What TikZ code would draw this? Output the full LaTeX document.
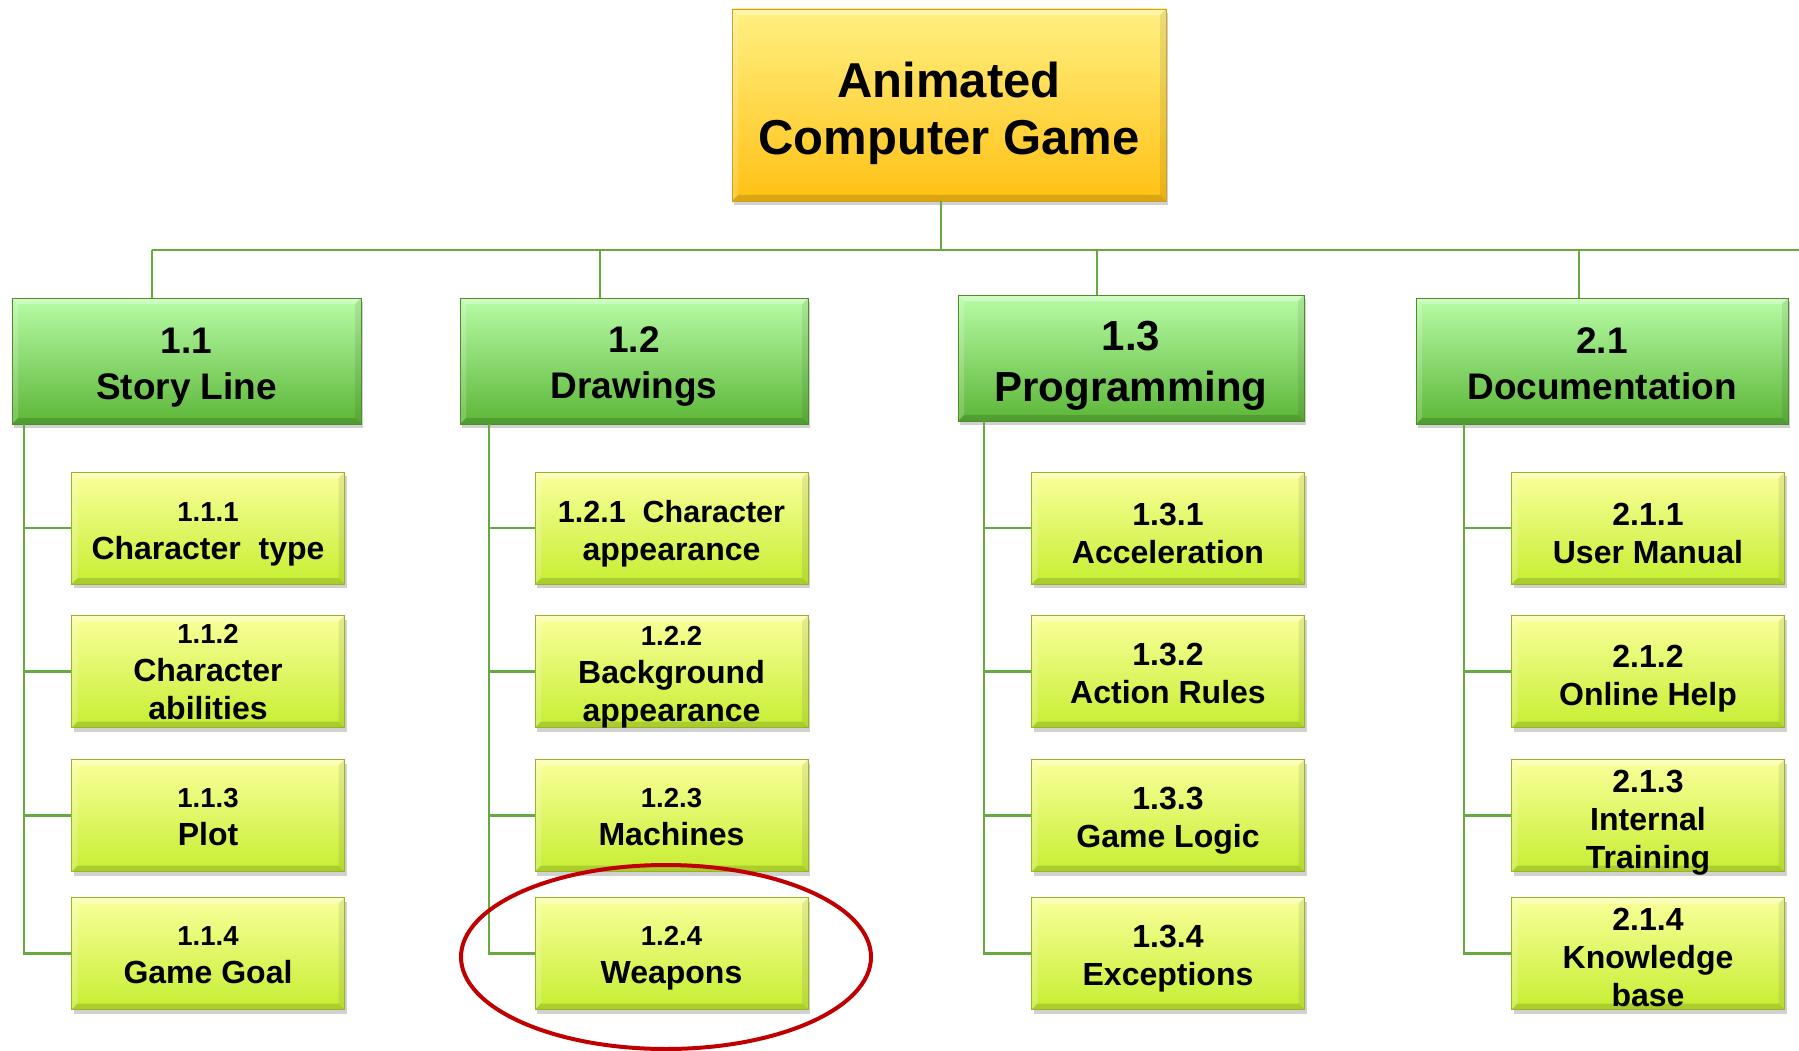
\documentclass[tikz,border=0pt]{standalone}
\usepackage{fontspec}
\setmainfont{Liberation Sans}
\usetikzlibrary{shadows,shapes.geometric}
\definecolor{lineg}{RGB}{104,168,62}
\definecolor{rootTop}{RGB}{255,240,130}
\definecolor{rootBot}{RGB}{255,193,20}
\definecolor{rootEdge}{RGB}{205,160,40}
\definecolor{lTop}{RGB}{184,252,166}
\definecolor{lBot}{RGB}{92,182,56}
\definecolor{lEdge}{RGB}{78,140,44}
\definecolor{cTop}{RGB}{250,255,155}
\definecolor{cBot}{RGB}{198,238,50}
\definecolor{cEdge}{RGB}{150,180,40}
\definecolor{hlred}{RGB}{192,0,0}
\newcommand\numS{\fontsize{27.5}{37}\selectfont}
\tikzset{
  conn/.style={draw=lineg, line width=2.5pt},
  boxshadow/.style={drop shadow={shadow xshift=2pt, shadow yshift=-4pt, opacity=0.3, fill=black!60}},
  bevel/.style={path picture={
    \path (path picture bounding box.north west) coordinate (bnw)
          (path picture bounding box.south east) coordinate (bse);
    \fill[white,opacity=.35] (bnw) -- (bnw -| bse) -- ([shift={(-6pt,-6pt)}]bnw -| bse) -- ([shift={(6pt,-6pt)}]bnw) -- cycle;
    \fill[white,opacity=.18] (bnw) -- ([shift={(6pt,-6pt)}]bnw) -- ([shift={(6pt,6pt)}]bse -| bnw) -- (bse -| bnw) -- cycle;
    \fill[black,opacity=.14] (bse) -- (bse -| bnw) -- ([shift={(6pt,6pt)}]bse -| bnw) -- ([shift={(-6pt,6pt)}]bse) -- cycle;
    \fill[black,opacity=.08] (bnw -| bse) -- ([shift={(-6pt,-6pt)}]bnw -| bse) -- ([shift={(-6pt,6pt)}]bse) -- (bse) -- cycle;
  }},
  rootbox/.style={rectangle, draw=rootEdge, line width=0.8pt, top color=rootTop, bottom color=rootBot,
    boxshadow, bevel, inner sep=0pt, minimum width=434pt, minimum height=192pt},
  rootboxtxt/.style={align=center, inner sep=0pt, font=\bfseries\fontsize{49}{57}\selectfont},
  lonebox/.style={rectangle, draw=lEdge, line width=0.8pt, top color=lTop, bottom color=lBot,
    boxshadow, bevel, inner sep=0pt, minimum height=126pt},
  loneboxtxt/.style={align=center, inner sep=0pt, font=\bfseries\fontsize{37}{46}\selectfont},
  lbigbox/.style={lonebox},
  lbigboxtxt/.style={align=center, inner sep=0pt, font=\bfseries\fontsize{42}{51}\selectfont},
  childbox/.style={rectangle, draw=cEdge, line width=0.8pt, top color=cTop, bottom color=cBot,
    boxshadow, bevel, inner sep=0pt, minimum width=273pt, minimum height=112pt},
  childboxtxt/.style={align=center, inner sep=0pt, font=\bfseries\fontsize{32}{38}\selectfont},
  hlring/.style={ellipse, draw=hlred, line width=4pt, minimum width=410pt, minimum height=184pt, inner sep=0pt}
}
% style, extra options, name, position, text shift (pt, downwards), text
\newcommand\bx[6]{\node[#1,#2] (#3) at (#4) {};
  \node[#1txt] (#3t) at ([yshift=-#5pt]#3.center) {#6};}
\begin{document}
\begin{tikzpicture}[x=1pt,y=-1pt]
\useasboundingbox (0,0) rectangle (1799,1051);
% root
\bx{rootbox}{}{root}{949,105}{8}{Animated\\Computer Game}
% level 1
\bx{lonebox}{minimum width=349pt}{l11}{186.5,361}{7}{1.1\\Story Line}
\bx{lonebox}{minimum width=348pt}{l12}{634,361}{6}{1.2\\Drawings}
\bx{lbigbox}{minimum width=346pt}{l13}{1131,358}{8}{1.3\\Programming}
\bx{lonebox}{minimum width=372pt}{l21}{1602,361}{3}{2.1\\Documentation}
% bus
\coordinate (rootdrop) at (941,201);
\coordinate (busL) at (152,250);
\coordinate (busR) at (1799,250);
\coordinate (b1) at (152,250);
\coordinate (b2) at (600,250);
\coordinate (b3) at (1097,250);
\coordinate (b4) at (1579,250);
\draw[conn] (rootdrop) -- (rootdrop |- busL);
\draw[conn] (busL) -- (busR);
\draw[conn] (b1) -- (b1 |- l11.north);
\draw[conn] (b2) -- (b2 |- l12.north);
\draw[conn] (b3) -- (b3 |- l13.north);
\draw[conn] (b4) -- (b4 |- l21.north);
% children column 1
\bx{childbox}{}{c111}{208,528}{6}{{\numS 1.1.1}\\Character\ \ type}
\bx{childbox}{}{c112}{208,671.5}{1}{{\numS 1.1.2}\\Character\\abilities}
\bx{childbox}{}{c113}{208,815.5}{2}{{\numS 1.1.3}\\Plot}
\bx{childbox}{}{c114}{208,953.5}{2}{{\numS 1.1.4}\\Game Goal}
% column 2
\bx{childbox}{}{c121}{671.5,528}{6}{{\fontsize{30.5}{38}\selectfont 1.2.1\ \ Character}\\appearance}
\bx{childbox}{}{c122}{671.5,671.5}{6}{{\numS 1.2.2}\\Background\\appearance}
\bx{childbox}{}{c123}{671.5,815.5}{2}{{\numS 1.2.3}\\Machines}
\bx{childbox}{}{c124}{671.5,953.5}{5}{{\numS 1.2.4}\\Weapons}
% column 3
\bx{childbox}{}{c131}{1168,528}{5}{1.3.1\\Acceleration}
\bx{childbox}{}{c132}{1168,671.5}{2}{1.3.2\\Action Rules}
\bx{childbox}{}{c133}{1168,815.5}{5}{1.3.3\\Game Logic}
\bx{childbox}{}{c134}{1168,953.5}{5}{1.3.4\\Exceptions}
% column 4
\bx{childbox}{}{c211}{1648,528}{5}{2.1.1\\User Manual}
\bx{childbox}{}{c212}{1648,671.5}{7}{2.1.2\\Online Help}
\bx{childbox}{}{c213}{1648,815.5}{7}{2.1.3\\Internal\\Training}
\bx{childbox}{}{c214}{1648,953.5}{4}{2.1.4\\Knowledge\\base}
% trunks
\coordinate (t1) at (24,424);
\coordinate (t2) at (489,424);
\coordinate (t3) at (984,421);
\coordinate (t4) at (1464,424);
\foreach \c in {c111,c112,c113,c114} \draw[conn] (t1) |- (\c.west);
\foreach \c in {c121,c122,c123,c124} \draw[conn] (t2) |- (\c.west);
\foreach \c in {c131,c132,c133,c134} \draw[conn] (t3) |- (\c.west);
\foreach \c in {c211,c212,c213,c214} \draw[conn] (t4) |- (\c.west);
% highlight
\node[hlring] (hl) at (666,957) {};
\end{tikzpicture}
\end{document}
